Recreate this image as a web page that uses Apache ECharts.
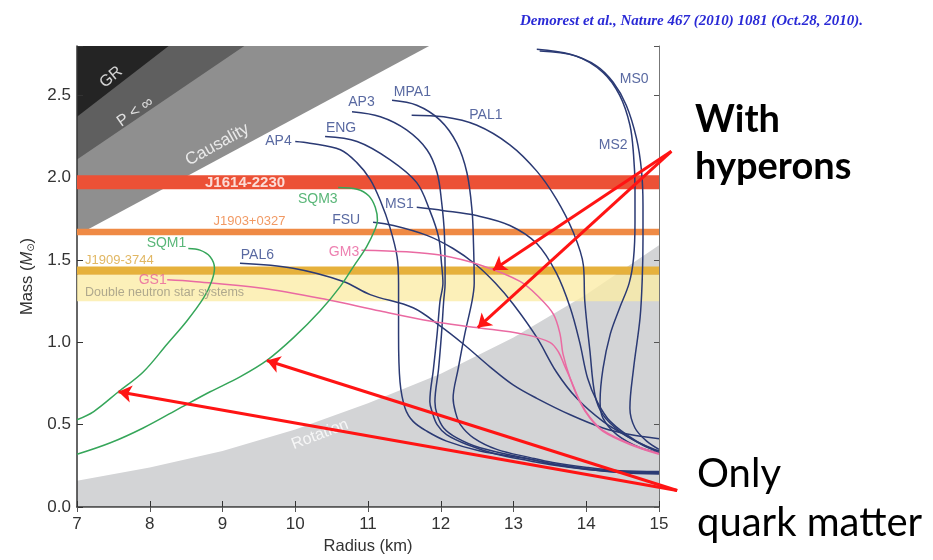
<!DOCTYPE html>
<html><head><meta charset="utf-8">
<script src="https://cdn.jsdelivr.net/npm/echarts@6/dist/echarts.min.js"></script>
<style>html,body{margin:0;padding:0;background:#fff}#c{width:933px;height:560px}</style>
</head><body><div id="c"></div>
<script>
// ---- axes ----
const xTicks = [7, 8, 9, 10, 11, 12, 13, 14, 15];
const yTicks = [0.0, 0.5, 1.0, 1.5, 2.0, 2.5];
// ---- excluded regions (boundary points, Radius km / Mass Msun) ----
const GR = [[7, 2.37], [8.26, 2.8]];
const PINF = [[7, 2.11], [9.3, 2.8]];
const CAUSALITY = [[7, 1.65], [11.84, 2.8]];
const ROTATION = [[7, 0.16], [8, 0.24], [9, 0.34], [10, 0.47], [11, 0.63], [12, 0.81], [13, 1.03], [14, 1.29], [15, 1.59]];
// ---- pulsar mass bands [low, high] ----
const J1614 = [1.93, 2.015];
const J1903 = [1.65, 1.69];
const J1909 = [1.41, 1.46];
const DNS = [1.25, 1.41];
// ---- mass-radius curves ----
const AP4 = [[10.00,2.22],[10.20,2.21],[10.62,2.17],[10.85,2.09],[11.03,1.99],[11.17,1.86],[11.30,1.70],[11.40,1.52],[11.42,1.36],[11.42,1.05],[11.44,0.76],[11.51,0.60],[11.62,0.52],[11.81,0.46],[12.08,0.40],[12.54,0.34],[13.23,0.29],[13.54,0.26],[14.01,0.23],[14.46,0.21],[15.0,0.20]];
const ENG = [[10.41,2.25],[10.85,2.22],[11.30,2.11],[11.67,1.97],[11.85,1.80],[11.97,1.64],[12.01,1.48],[12.03,1.36],[11.99,1.25],[11.95,1.05],[11.90,0.84],[11.85,0.64],[11.88,0.58],[11.95,0.50],[12.08,0.44],[12.36,0.38],[12.77,0.32],[13.23,0.28],[13.54,0.255],[14.01,0.228],[14.46,0.212],[15.0,0.205]];
const AP3 = [[10.78,2.40],[11.17,2.37],[11.53,2.29],[11.81,2.17],[11.95,2.03],[12.01,1.86],[12.05,1.66],[12.06,1.36],[12.04,1.25],[12.01,1.05],[11.97,0.84],[11.92,0.64],[11.95,0.56],[12.04,0.48],[12.22,0.42],[12.54,0.36],[13.23,0.29],[13.54,0.262],[14.01,0.232],[14.46,0.216],[15.0,0.21]];
const MPA1 = [[11.33,2.47],[11.67,2.44],[11.99,2.35],[12.22,2.21],[12.36,2.03],[12.43,1.80],[12.45,1.60],[12.46,1.36],[12.43,1.25],[12.33,1.05],[12.24,0.84],[12.17,0.66],[12.20,0.58],[12.27,0.50],[12.45,0.42],[12.77,0.35],[13.23,0.30],[13.54,0.27],[14.01,0.24],[14.46,0.22],[15.0,0.215]];
const PAL1 = [[11.60,2.38],[12.04,2.37],[12.49,2.32],[12.95,2.20],[13.32,2.04],[13.59,1.87],[13.82,1.67],[13.96,1.47],[13.98,1.25],[14.05,0.95],[14.12,0.68],[14.23,0.56],[14.46,0.46],[14.80,0.37],[15.0,0.34]];
const MS0 = [[13.32,2.78],[13.78,2.75],[14.14,2.68],[14.37,2.58],[14.55,2.44],[14.69,2.24],[14.76,2.04],[14.78,1.83],[14.78,1.63],[14.77,1.39],[14.74,1.15],[14.65,0.84],[14.60,0.60],[14.67,0.48],[14.83,0.40],[15.0,0.35]];
const MS2 = [[13.36,2.77],[13.85,2.74],[14.23,2.64],[14.46,2.50],[14.60,2.32],[14.65,2.14],[14.67,1.94],[14.67,1.73],[14.65,1.51],[14.59,1.36],[14.46,1.21],[14.33,1.05],[14.23,0.84],[14.19,0.64],[14.23,0.54],[14.42,0.44],[14.74,0.36],[15.0,0.33]];
const MS1 = [[11.67,1.82],[12.04,1.80],[12.49,1.77],[12.95,1.71],[13.32,1.60],[13.59,1.42],[13.78,1.21],[13.91,1.00],[14.02,0.78],[14.15,0.64],[14.33,0.52],[14.69,0.40],[15.0,0.34]];
const FSU = [[11.07,1.73],[11.35,1.71],[11.81,1.65],[12.17,1.57],[12.49,1.47],[12.75,1.36],[13.00,1.23],[13.32,1.03],[13.59,0.82],[13.87,0.66],[14.23,0.52],[14.60,0.42],[15.0,0.33]];
const PAL6 = [[9.24,1.48],[9.97,1.45],[10.66,1.37],[11.03,1.29],[11.62,1.21],[11.99,1.10],[12.31,0.99],[12.68,0.85],[13.00,0.74],[13.32,0.66],[13.78,0.56],[14.23,0.48],[14.60,0.44],[15.0,0.415]];
const GM3 = [[10.91,1.56],[11.53,1.55],[11.99,1.53],[12.54,1.47],[13.09,1.37],[13.36,1.27],[13.55,1.17],[13.64,1.05],[13.68,0.93],[13.78,0.78],[13.91,0.64],[14.05,0.54],[14.23,0.46],[14.60,0.38],[15.0,0.32]];
const GS1 = [[8.24,1.38],[8.60,1.37],[9.52,1.33],[10.43,1.26],[11.17,1.19],[11.85,1.13],[12.49,1.09],[13.13,1.05],[13.50,1.00],[13.62,0.94],[13.70,0.86],[13.79,0.77],[13.91,0.645],[14.05,0.545],[14.23,0.465],[14.60,0.385],[15.0,0.325]];
const SQM1 = [[8.53,1.57],[8.69,1.56],[8.83,1.52],[8.89,1.45],[8.85,1.37],[8.74,1.27],[8.51,1.13],[8.24,0.99],[7.91,0.82],[7.57,0.70],[7.23,0.58],[7.00,0.53]];
const SQM3 = [[10.59,1.94],[10.85,1.93],[11.01,1.89],[11.10,1.82],[11.13,1.74],[11.10,1.69],[10.98,1.58],[10.80,1.46],[10.62,1.34],[10.34,1.19],[9.98,1.03],[9.61,0.89],[9.24,0.79],[8.83,0.70],[8.37,0.59],[7.91,0.48],[7.46,0.39],[7.00,0.32]];
// ---- text labels [text, R, M] ----
const BLUE_LABELS = [['AP4',9.77,2.22],['ENG',10.63,2.30],['AP3',10.91,2.46],['MPA1',11.61,2.52],['PAL1',12.62,2.38],['MS0',14.66,2.60],['MS2',14.37,2.20],['MS1',11.43,1.84],['FSU',10.70,1.74],['PAL6',9.48,1.53]];
const PINK_LABELS = [['GM3',10.67,1.55],['GS1',8.04,1.38]];
const GREEN_LABELS = [['SQM1',8.23,1.60],['SQM3',10.31,1.87]];
const REGION_LABELS = [['GR',7.47,2.61],['P < ∞',7.80,2.40],['Causality',8.93,2.20],['Rotation',10.34,0.44]];
const BAND_LABELS = [['J1614-2230',9.31,1.97],['J1903+0327',9.37,1.735]];
const BAND_LEFT_LABELS = [['J1909-3744',7.11,1.50],['Double neutron star systems',7.11,1.30]];
// ---- annotation arrows [from, to] ----
const HYPERON_ARROWS = [[[15.17,2.16],[12.72,1.44]],[[15.17,2.16],[12.51,1.09]]];
const QUARK_ARROWS = [[[15.25,0.10],[7.57,0.70]],[[15.25,0.10],[9.61,0.89]]];

const chart = echarts.init(document.getElementById('c'));
const SANS = '"Liberation Sans", Arial, "DejaVu Sans", sans-serif';
const NAVY = '#2b3a74', PINK = '#ea6aa2', GREEN = '#36a65a';

function region(data, color, origin) {
  return {type:'line', data, showSymbol:false, silent:true, z:0,
    lineStyle:{width:0}, areaStyle:{color, opacity:1, origin}};
}
function curve(name, data, color) {
  return {type:'line', name, data, showSymbol:false, smooth:0.35, silent:true, z:3,
    lineStyle:{color, width:1.5}};
}
function labels(arr, style, z) {
  return {type:'scatter', data: arr.map(a => [a[1], a[2], a[0]]), symbolSize:0, silent:true, z: z||4,
    label:Object.assign({show:true, position:'inside', formatter:p => p.value[2], fontFamily:SANS}, style)};
}
function band(b, color) {
  return [{yAxis:b[0], itemStyle:{color}}, {yAxis:b[1]}];
}
const yLab = v => yTicks.some(t => Math.abs(t - v) < 1e-6) ? v.toFixed(1) : '';

const option = {
  animation:false,
  backgroundColor:'#fff',
  title:{text:'Demorest et al., Nature 467 (2010) 1081 (Oct.28, 2010).', left:515, top:9,
    textStyle:{fontFamily:'"Liberation Serif", "Times New Roman", serif', fontStyle:'italic', fontWeight:'bold', fontSize:15, color:'#2a2ad6'}},
  grid:{left:77, right:274, top:46, bottom:51},
  xAxis:[{type:'value', min:xTicks[0], max:xTicks[xTicks.length-1], interval:1,
      name:'Radius (km)', nameLocation:'middle', nameGap:31,
      nameTextStyle:{fontFamily:SANS, fontSize:16.5, color:'#333'},
      axisLine:{lineStyle:{color:'#333', width:1.5}}, axisTick:{inside:true, length:6, lineStyle:{color:'#333'}},
      axisLabel:{fontFamily:SANS, fontSize:17, color:'#333', margin:9}, splitLine:{show:false}},
    {type:'value', position:'top', min:7, max:15, interval:1,
      axisLine:{lineStyle:{color:'#777'}}, axisTick:{inside:true, length:5, lineStyle:{color:'#555'}},
      axisLabel:{show:false}, splitLine:{show:false}}],
  yAxis:[{type:'value', min:0, max:2.8, interval:0.5,
      name:'Mass ({i|M}{s|⊙})', nameLocation:'middle', nameGap:40,
      nameTextStyle:{fontFamily:SANS, fontSize:16.5, color:'#333',
        rich:{i:{fontFamily:SANS, fontSize:16.5, fontStyle:'italic', color:'#333'}, s:{fontFamily:'"DejaVu Sans", sans-serif', fontSize:10, color:'#333', verticalAlign:'bottom', padding:[8,0,0,0]}}},
      axisLine:{lineStyle:{color:'#333', width:1.5}}, axisTick:{inside:true, length:6, lineStyle:{color:'#333'}},
      axisLabel:{fontFamily:SANS, fontSize:17, color:'#333', margin:6, formatter:yLab}, splitLine:{show:false}},
    {type:'value', position:'right', min:0, max:2.8, interval:0.5,
      axisLine:{lineStyle:{color:'#777'}}, axisTick:{inside:true, length:5, lineStyle:{color:'#555'}},
      axisLabel:{show:false}, splitLine:{show:false}}],
  series:[
    region(CAUSALITY, '#8f8f8f', 'end'),
    region(PINF, '#5f5f5f', 'end'),
    region(GR, '#242424', 'end'),
    region(ROTATION, '#d3d4d6', 'start'),
    {type:'line', data:[], z:2, silent:true,
      markArea:{silent:true, z:2, data:[
        band(DNS, 'rgba(251,236,165,0.78)'),
        band(J1909, '#e6b13c'),
        band(J1903, '#ef8a45'),
        band(J1614, '#ec5136')]}},
    curve('AP4', AP4, NAVY), curve('ENG', ENG, NAVY), curve('AP3', AP3, NAVY), curve('MPA1', MPA1, NAVY),
    curve('PAL1', PAL1, NAVY), curve('MS0', MS0, NAVY), curve('MS2', MS2, NAVY), curve('MS1', MS1, NAVY),
    curve('FSU', FSU, NAVY), curve('PAL6', PAL6, NAVY),
    curve('GM3', GM3, PINK), curve('GS1', GS1, PINK),
    curve('SQM1', SQM1, GREEN), curve('SQM3', SQM3, GREEN),
    labels(BLUE_LABELS, {color:'#2f4389', fontSize:14}),
    labels(PINK_LABELS, {color:'#e8609c', fontSize:14}),
    labels(GREEN_LABELS, {color:'#2fa456', fontSize:14}),
    labels([REGION_LABELS[0]], {color:'#fff', fontSize:16, rotate:40}),
    labels([REGION_LABELS[1]], {color:'#fff', fontSize:16, rotate:35}),
    labels([REGION_LABELS[2]], {color:'#fff', fontSize:17, rotate:29}),
    labels([REGION_LABELS[3]], {color:'#fff', fontSize:16, rotate:21}),
    labels([BAND_LABELS[0]], {color:'#fff', fontSize:15, fontWeight:'bold'}),
    labels([BAND_LABELS[1]], {color:'#ee7f3c', fontSize:13}),
    labels([BAND_LEFT_LABELS[0]], {color:'#d9a53c', fontSize:13, position:'right', distance:0}),
    labels([BAND_LEFT_LABELS[1]], {color:'#9b9682', fontSize:12.5, position:'right', distance:0}),
    {type:'lines', coordinateSystem:'cartesian2d', xAxisIndex:0, yAxisIndex:0, z:6, silent:true, clip:false,
      symbol:['none','arrow'], symbolSize:13,
      lineStyle:{color:'#ff1414', width:3, opacity:1},
      data: HYPERON_ARROWS.concat(QUARK_ARROWS).map(c => ({coords:c}))}
  ],
  graphic:[
    {type:'text', left:695, top:101, style:{text:'With', font:'bold 38px Lato, "Open Sans", sans-serif', fill:'#000'}},
    {type:'text', left:695, top:148, style:{text:'hyperons', font:'bold 38px Lato, "Open Sans", sans-serif', fill:'#000'}},
    {type:'text', left:697, top:454, style:{text:'Only', font:'40px Lato, "Open Sans", sans-serif', fill:'#000'}},
    {type:'text', left:697, top:503, style:{text:'quark matter', font:'40px Lato, "Open Sans", sans-serif', fill:'#000'}}
  ]
};
chart.setOption(option);
</script></body></html>
